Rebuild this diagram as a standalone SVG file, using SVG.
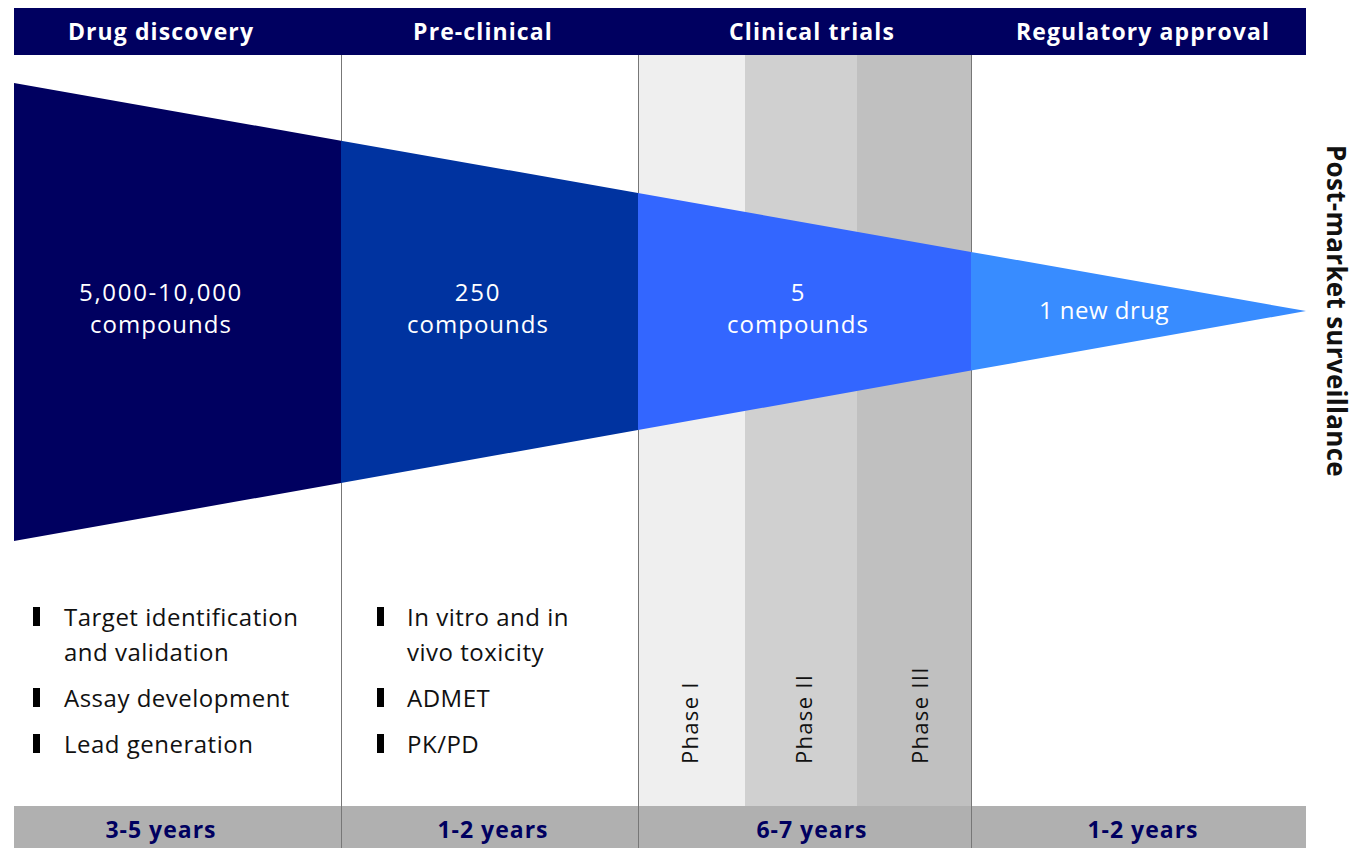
<svg xmlns="http://www.w3.org/2000/svg" width="1351" height="848" viewBox="0 0 1351 848">
<style>
.hdr{font-family:"Open Sans","Liberation Sans",sans-serif;font-weight:700;font-size:23px;letter-spacing:1.1px;fill:#ffffff;text-anchor:middle}
.yrs{font-family:"Open Sans","Liberation Sans",sans-serif;font-weight:700;font-size:23px;letter-spacing:1px;fill:#000060;text-anchor:middle}
.cnt{font-family:"Open Sans","Liberation Sans",sans-serif;font-size:24px;letter-spacing:1px;fill:#ffffff;text-anchor:middle}
.num{letter-spacing:1.7px}
.item{font-family:"Open Sans","Liberation Sans",sans-serif;font-size:24px;letter-spacing:0.5px;fill:#111111}
.phase{font-family:"Open Sans","Liberation Sans",sans-serif;font-size:22px;letter-spacing:1.3px;fill:#111111}
.pms{font-family:"Open Sans","Liberation Sans",sans-serif;font-weight:700;font-size:26px;letter-spacing:0.3px;fill:#111111;text-anchor:middle}
.div{stroke:#777777;stroke-width:1}
.bul{fill:#000000}
</style>
<rect width="1351" height="848" fill="#ffffff"/>
<g id="phase-shading">
<rect x="639" y="55" width="106" height="751" fill="#efefef"/>
<rect x="745" y="55" width="112" height="751" fill="#d0d0d0"/>
<rect x="857" y="55" width="114" height="751" fill="#c0c0c0"/>
</g>
<g id="header">
<rect x="14" y="8" width="1292" height="47" fill="#000060"/>
<text class="hdr" x="161" y="40">Drug discovery</text>
<text class="hdr" x="483" y="40">Pre-clinical</text>
<text class="hdr" x="812" y="40">Clinical trials</text>
<text class="hdr" x="1143" y="40">Regulatory approval</text>
</g>
<g id="footer">
<rect x="14" y="806" width="1292" height="42" fill="#b0b0b0"/>
<text class="yrs" x="161" y="838">3-5 years</text>
<text class="yrs" x="493" y="838">1-2 years</text>
<text class="yrs" x="812" y="838">6-7 years</text>
<text class="yrs" x="1143" y="838">1-2 years</text>
</g>
<g id="dividers">
<line class="div" x1="341.5" y1="55" x2="341.5" y2="848"/>
<line class="div" x1="638.5" y1="55" x2="638.5" y2="848"/>
<line class="div" x1="971.5" y1="55" x2="971.5" y2="848"/>
</g>
<g id="funnel">
<g id="stage-discovery">
<polygon points="14,83 341,140.7 341,483 14,541" fill="#000060"/>
<text class="cnt num" x="161" y="301">5,000-10,000</text>
<text class="cnt" x="161" y="333">compounds</text>
</g>
<g id="stage-preclinical">
<polygon points="341,140.7 638,193 638,430 341,483" fill="#0033a0"/>
<text class="cnt num" x="478" y="301">250</text>
<text class="cnt" x="478" y="333">compounds</text>
</g>
<g id="stage-clinical">
<polygon points="638,193 971,251.9 971,370.6 638,430" fill="#3366ff"/>
<text class="cnt" x="798" y="301">5</text>
<text class="cnt" x="798" y="333">compounds</text>
</g>
<g id="stage-approval">
<polygon points="971,251.9 1306,311 971,370.6" fill="#388cff"/>
<text class="cnt" x="1104" y="319" style="letter-spacing:0.5px">1 new drug</text>
</g>
</g>
<g id="discovery-items">
<rect class="bul" x="33" y="607" width="7" height="19"/>
<text class="item" x="64" y="626">Target identification</text>
<text class="item" x="64" y="661">and validation</text>
<rect class="bul" x="33" y="688" width="7" height="19"/>
<text class="item" x="64" y="707">Assay development</text>
<rect class="bul" x="33" y="734" width="7" height="19"/>
<text class="item" x="64" y="753">Lead generation</text>
</g>
<g id="preclinical-items">
<rect class="bul" x="377" y="607" width="7" height="19"/>
<text class="item" x="407" y="626">In vitro and in</text>
<text class="item" x="407" y="661">vivo toxicity</text>
<rect class="bul" x="377" y="688" width="7" height="19"/>
<text class="item" x="407" y="707">ADMET</text>
<rect class="bul" x="377" y="734" width="7" height="19"/>
<text class="item" x="407" y="753">PK/PD</text>
</g>
<g id="phases">
<text class="phase" transform="translate(698,764) rotate(-90)">Phase I</text>
<text class="phase" transform="translate(812,764) rotate(-90)">Phase II</text>
<text class="phase" transform="translate(928,764) rotate(-90)">Phase III</text>
</g>
<g id="post-market">
<text class="pms" transform="translate(1327,311) rotate(90)">Post-market surveillance</text>
</g>
</svg>
